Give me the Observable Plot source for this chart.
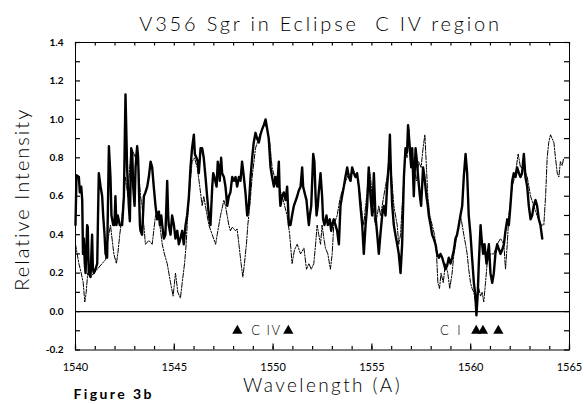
<!DOCTYPE html>
<html><head><meta charset="utf-8">
<script src="https://cdn.jsdelivr.net/npm/d3@7"></script>
<script src="https://cdn.jsdelivr.net/npm/@observablehq/plot@0.6"></script>
<style>
body{margin:0;background:#fff;}
#chart{width:584px;height:404px;}
</style></head><body>
<div id="chart"></div>
<script>
// Thick (solid) spectrum
const thickWl = [1540.00,1540.05,1540.17,1540.22,1540.29,1540.34,1540.38,1540.42,1540.47,1540.51,1540.59,1540.62,1540.67,1540.76,1540.84,1540.88,1540.93,1541.01,1541.10,1541.14,1541.18,1541.27,1541.35,1541.40,1541.47,1541.52,1541.60,1541.69,1541.77,1541.82,1541.91,1541.97,1542.02,1542.07,1542.14,1542.24,1542.36,1542.45,1542.53,1542.58,1542.61,1542.70,1542.75,1542.82,1542.87,1542.92,1542.99,1543.04,1543.12,1543.17,1543.22,1543.26,1543.29,1543.37,1543.46,1543.54,1543.63,1543.71,1543.80,1543.88,1543.96,1544.05,1544.13,1544.22,1544.27,1544.34,1544.39,1544.47,1544.55,1544.64,1544.69,1544.72,1544.81,1544.89,1544.98,1545.06,1545.15,1545.23,1545.31,1545.40,1545.48,1545.57,1545.65,1545.74,1545.82,1545.90,1545.99,1546.04,1546.12,1546.19,1546.24,1546.33,1546.41,1546.49,1546.58,1546.66,1546.75,1546.83,1546.92,1546.97,1547.03,1547.14,1547.20,1547.25,1547.30,1547.37,1547.42,1547.51,1547.59,1547.68,1547.76,1547.84,1547.93,1548.01,1548.10,1548.18,1548.27,1548.35,1548.43,1548.52,1548.60,1548.69,1548.77,1548.86,1548.94,1549.02,1549.11,1549.19,1549.28,1549.36,1549.45,1549.53,1549.62,1549.70,1549.78,1549.87,1549.95,1550.04,1550.12,1550.21,1550.29,1550.34,1550.37,1550.46,1550.54,1550.63,1550.71,1550.80,
1550.88,1550.96,1551.05,1551.22,1551.30,1551.39,1551.47,1551.52,1551.59,1551.69,1551.76,1551.81,1551.86,1551.93,1552.03,1552.09,1552.15,1552.20,1552.26,1552.31,1552.40,1552.48,1552.53,1552.60,1552.70,1552.77,1552.87,1552.94,1552.99,1553.07,1553.16,1553.24,1553.33,1553.41,1553.49,1553.58,1553.66,1553.75,1553.83,1553.92,1554.00,1554.09,1554.17,1554.25,1554.34,1554.42,1554.51,1554.59,1554.68,1554.76,1554.84,1554.93,1555.01,1555.10,1555.18,1555.27,1555.35,1555.43,1555.52,1555.60,1555.69,1555.77,1555.86,1555.91,1555.97,1556.03,1556.11,1556.19,1556.28,1556.36,1556.45,1556.53,1556.62,1556.70,1556.78,1556.83,1556.92,1556.99,1557.04,1557.12,1557.21,1557.26,1557.34,1557.43,1557.49,1557.59,1557.66,1557.76,1557.83,1557.88,1557.97,1558.05,1558.13,1558.22,1558.30,1558.39,1558.47,1558.56,1558.64,1558.72,1558.81,1558.89,1558.98,1559.06,1559.15,1559.23,1559.31,1559.40,1559.48,1559.57,1559.65,1559.74,1559.82,1559.90,1559.99,1560.07,1560.16,1560.24,1560.29,1560.36,1560.41,1560.50,1560.55,1560.63,1560.70,1560.80,1560.92,1561.00,1561.09,1561.17,1561.25,1561.34,1561.51,1561.59,1561.68,1561.76,1561.85,1561.93,1562.01,1562.10,1562.18,1562.27,1562.35,1562.44,1562.52,1562.60,1562.69,1562.77,1562.86,1562.94,1563.03,1563.11,1563.19,1563.28,1563.36,1563.45,1563.53,1563.62];
const thickVal = [0.45,0.71,0.70,0.62,0.65,0.58,0.30,0.38,0.25,0.20,0.45,0.44,0.20,0.18,0.40,0.22,0.20,0.22,0.25,0.50,0.72,0.65,0.60,0.50,0.40,0.30,0.28,0.86,0.70,0.50,0.45,0.45,0.60,0.45,0.50,0.45,0.45,0.60,1.13,0.90,0.75,0.55,0.47,0.85,0.83,0.65,0.55,0.75,0.86,0.80,0.60,0.45,0.42,0.40,0.60,0.62,0.65,0.70,0.78,0.75,0.65,0.55,0.48,0.52,0.45,0.50,0.45,0.38,0.40,0.68,0.50,0.45,0.40,0.50,0.45,0.38,0.42,0.35,0.38,0.42,0.35,0.45,0.50,0.60,0.75,0.85,0.92,0.82,0.80,0.78,0.72,0.85,0.85,0.80,0.70,0.60,0.50,0.45,0.65,0.72,0.70,0.65,0.78,0.75,0.68,0.80,0.72,0.70,0.65,0.55,0.60,0.62,0.70,0.68,0.70,0.65,0.70,0.68,0.78,0.70,0.62,0.50,0.55,0.70,0.80,0.88,0.93,0.90,0.88,0.92,0.95,0.97,1.00,0.95,0.90,0.75,0.70,0.65,0.70,0.65,0.78,0.60,0.55,0.60,0.62,0.58,0.65,0.45,
0.45,0.50,0.55,0.60,0.63,0.65,0.75,0.65,0.62,0.58,0.50,0.45,0.50,0.55,0.82,0.78,0.60,0.50,0.55,0.62,0.72,0.60,0.48,0.45,0.50,0.45,0.48,0.42,0.45,0.48,0.45,0.42,0.35,0.55,0.60,0.65,0.70,0.75,0.70,0.68,0.75,0.72,0.70,0.72,0.65,0.55,0.45,0.30,0.45,0.55,0.75,0.60,0.50,0.72,0.50,0.40,0.30,0.40,0.50,0.55,0.50,0.65,0.78,0.92,0.70,0.55,0.45,0.40,0.35,0.30,0.20,0.35,0.70,0.85,0.83,0.97,0.85,0.75,0.85,0.60,0.85,0.80,0.70,0.60,0.55,0.75,0.70,0.60,0.55,0.50,0.45,0.40,0.38,0.35,0.30,0.28,0.30,0.28,0.25,0.22,0.24,0.28,0.25,0.28,0.32,0.38,0.40,0.45,0.50,0.55,0.70,0.82,0.72,0.50,0.40,0.28,0.15,0.08,-0.02,0.10,0.25,0.45,0.38,0.30,0.35,0.25,0.35,0.20,0.15,0.20,0.30,0.35,0.30,0.32,0.35,0.42,0.48,0.45,0.55,0.68,0.72,0.70,0.75,0.72,0.70,0.72,0.82,0.70,0.65,0.55,0.48,0.50,0.55,0.58,0.55,0.48,0.45,0.38];

// Thin (broken) spectrum
const dashWl = [1540.00,1540.17,1540.29,1540.39,1540.47,1540.54,1540.62,1540.76,1540.93,1541.10,1541.35,1541.52,1541.60,1541.77,1541.94,1542.07,1542.14,1542.24,1542.36,1542.53,1542.65,1542.78,1542.92,1543.04,1543.12,1543.22,1543.29,1543.37,1543.54,1543.71,1543.88,1544.05,1544.17,1544.27,1544.39,1544.50,1544.64,1544.81,1544.94,1545.06,1545.18,1545.31,1545.40,1545.52,1545.60,1545.68,1545.79,1545.90,1546.02,1546.16,1546.29,1546.41,1546.49,1546.66,1546.75,1546.92,1547.09,1547.17,1547.34,1547.51,1547.59,1547.76,1547.84,1547.93,1548.10,1548.18,1548.27,1548.38,1548.47,1548.55,1548.65,1548.72,1548.82,1548.94,1549.11,1549.36,1549.56,1549.70,1549.83,1549.95,1550.12,1550.29,1550.46,1550.71,1550.84,1550.96,1551.08,1551.22,
1551.39,1551.56,1551.69,1551.81,1551.93,1552.06,1552.15,1552.23,1552.31,1552.40,1552.48,1552.57,1552.65,1552.77,1552.90,1552.99,1553.07,1553.24,1553.41,1553.58,1553.75,1553.92,1554.09,1554.25,1554.42,1554.51,1554.59,1554.68,1554.76,1554.84,1554.93,1555.01,1555.10,1555.18,1555.27,1555.35,1555.43,1555.52,1555.60,1555.77,1555.94,1556.11,1556.28,1556.36,1556.45,1556.53,1556.62,1556.70,1556.78,1556.87,1556.95,1557.04,1557.12,1557.26,1557.37,1557.49,1557.59,1557.68,1557.76,1557.83,1557.93,1558.05,1558.17,1558.27,1558.34,1558.42,1558.50,1558.61,1558.72,1558.84,1558.94,1559.06,1559.15,1559.23,1559.31,1559.40,1559.48,1559.57,1559.65,1559.74,1559.82,1559.90,1559.99,1560.07,1560.16,1560.24,1560.33,1560.41,1560.50,1560.58,1560.66,1560.75,1560.83,1560.92,1561.00,1561.17,1561.34,1561.51,1561.68,1561.76,1561.85,1561.93,1562.10,1562.27,1562.40,1562.52,1562.69,1562.86,1563.03,1563.19,1563.36,1563.53,1563.70,1563.79,1563.87,1563.95,1564.04,1564.12,1564.21,1564.29,1564.38,1564.46,1564.54,1564.63,1564.71];
const dashVal = [0.35,0.25,0.20,0.15,0.05,0.10,0.20,0.18,0.20,0.22,0.25,0.27,0.35,0.45,0.30,0.25,0.30,0.40,0.50,0.70,0.60,0.80,0.83,0.80,0.86,0.70,0.60,0.55,0.35,0.37,0.35,0.50,0.52,0.45,0.35,0.30,0.25,0.15,0.08,0.20,0.10,0.07,0.15,0.25,0.35,0.50,0.65,0.78,0.80,0.75,0.65,0.55,0.60,0.50,0.45,0.40,0.35,0.40,0.50,0.58,0.55,0.45,0.42,0.44,0.42,0.43,0.35,0.25,0.18,0.25,0.35,0.45,0.55,0.70,0.85,0.93,0.98,0.95,0.88,0.75,0.68,0.65,0.60,0.50,0.40,0.25,0.32,0.35,
0.30,0.33,0.22,0.25,0.22,0.25,0.35,0.45,0.40,0.35,0.45,0.38,0.33,0.30,0.22,0.30,0.45,0.50,0.60,0.65,0.70,0.72,0.72,0.70,0.60,0.50,0.45,0.55,0.62,0.75,0.70,0.60,0.50,0.45,0.50,0.55,0.50,0.55,0.60,0.70,0.78,0.55,0.45,0.35,0.40,0.55,0.70,0.85,0.80,0.95,0.78,0.82,0.75,0.68,0.78,0.75,0.85,0.92,0.75,0.60,0.50,0.45,0.40,0.30,0.15,0.12,0.20,0.15,0.25,0.20,0.12,0.20,0.30,0.35,0.40,0.45,0.50,0.45,0.40,0.35,0.30,0.22,0.15,0.12,0.10,0.05,0.08,0.12,0.08,0.10,0.05,0.15,0.25,0.28,0.30,0.30,0.35,0.38,0.35,0.22,0.35,0.50,0.65,0.72,0.82,0.75,0.75,0.70,0.60,0.55,0.50,0.45,0.45,0.60,0.80,0.88,0.92,0.90,0.88,0.80,0.72,0.70,0.78,0.76,0.80];

// Line identifications
const civLines = [1548.19, 1550.77];
const ciLines = [1560.28, 1560.62, 1561.40];
const labels = ["C IV", "C I"];
const labelWl = [1549.66, 1559.03];
const markY = -0.1;

const xDom = [1540, 1565];
const yDom = [-0.2, 1.4];
const xTicks = [1540, 1545, 1550, 1555, 1560, 1565];
const yTicks = [-0.2, 0, 0.2, 0.4, 0.6, 0.8, 1.0, 1.2, 1.4];
const xMinor = d3.range(1540, 1565.5, 1);
const yMinor = d3.range(-0.2, 1.45, 0.1).map(v => Math.round(v * 10) / 10);

const title = "V356 Sgr in Eclipse\u00a0 C IV region";
const xLabel = "Wavelength (A)";
const yLabel = "Relative Intensity";
const figLabel = "Figure 3b";

const thick = thickWl.map((w, i) => ({w, v: thickVal[i]}));
const dash = dashWl.map((w, i) => ({w, v: dashVal[i]}));
const marks = [...civLines, ...ciLines].map(w => ({w, v: markY}));
const lab = labels.map((t, i) => ({t, w: labelWl[i], v: markY}));

const font = "Lato, 'DejaVu Sans', sans-serif";
const fmt = d => (d < 0 ? "-" : "") + Math.abs(d).toFixed(1);

const W = 584, H = 404, ML = 75, MR = 15, MT = 42, MB = 54.5;
const FW = W - ML - MR, FH = H - MT - MB;
// tick lengths expressed in data units (px -> data)
const tx = 5 * (xDom[1] - xDom[0]) / FW;   // 5 px horizontal
const ty = 3.5 * (yDom[1] - yDom[0]) / FH; // 3.5 px vertical
const tyMaj = 6 * (yDom[1] - yDom[0]) / FH;

const chart = Plot.plot({
  width: W, height: H,
  marginLeft: ML, marginRight: MR, marginTop: MT, marginBottom: MB,
  style: {fontFamily: font, background: "#fff", color: "#000"},
  x: {domain: xDom},
  y: {domain: yDom},
  marks: [
    Plot.frame({stroke: "#000", strokeWidth: 1}),
    // inner tick marks
    Plot.ruleY(yMinor, {y: d => d, x1: xDom[0], x2: xDom[0] + tx, stroke: "#000", strokeWidth: 1.2}),
    Plot.ruleY(yMinor, {y: d => d, x1: xDom[1] - tx, x2: xDom[1], stroke: "#000", strokeWidth: 1.2}),
    Plot.ruleX(xMinor, {x: d => d, y1: yDom[1] - ty, y2: yDom[1], stroke: "#000", strokeWidth: 1.2}),
    Plot.ruleX(xMinor, {x: d => d, y1: yDom[0], y2: yDom[0] + ty, stroke: "#000", strokeWidth: 1.2}),
    Plot.ruleX(xTicks, {x: d => d, y1: yDom[0], y2: yDom[0] + tyMaj, stroke: "#000", strokeWidth: 1.2}),
    // tick labels
    Plot.axisY(yTicks, {anchor: "left", tickSize: 0, tickPadding: 12, tickFormat: fmt, label: null, fontSize: 10, fontWeight: "bold"}),
    Plot.axisX(xTicks, {anchor: "bottom", tickSize: 0, tickPadding: 13, tickFormat: d => String(d), label: null, fontSize: 11}),
    Plot.ruleY([0], {stroke: "#000", strokeWidth: 1.3}),
    Plot.line(dash, {x: "w", y: "v", stroke: "#000", strokeWidth: 1, strokeDasharray: "5,1.5,1.5,1.5"}),
    Plot.line(thick, {x: "w", y: "v", stroke: "#000", strokeWidth: 2.4, strokeLinejoin: "round"}),
    Plot.dot(marks, {x: "w", y: "v", symbol: "triangle", r: 3.8, fill: "#000", stroke: null}),
    Plot.text(lab, {x: "w", y: "v", text: "t", fontSize: 13, fontWeight: 300, fill: "#000"}),
    // titles
    Plot.text([title], {frameAnchor: "top", lineAnchor: "middle", textAnchor: "middle", dx: -2, dy: -18.4, fontSize: 20, fontWeight: 300, fill: "#000"}),
    Plot.text([xLabel], {frameAnchor: "bottom", lineAnchor: "middle", textAnchor: "middle", dx: 0, dy: 35.5, fontSize: 19, fontWeight: 300, fill: "#000"}),
    Plot.text([yLabel], {frameAnchor: "left", lineAnchor: "middle", textAnchor: "middle", dx: -53, dy: 3, rotate: -90, fontSize: 20, fontWeight: 300, fill: "#000"}),
    Plot.text([figLabel], {frameAnchor: "bottom-left", lineAnchor: "middle", textAnchor: "start", dx: -2, dy: 45, fontSize: 14, fontWeight: "bold", fill: "#000"})
  ]
});
// letter spacing (Plot passes no such option) applied to the rendered texts
const spacing = new Map([[title, 2.8], [xLabel, 2.4], [yLabel, 2], [figLabel, 2.4], ["C IV", 1.5], ["C I", 2.5]]);
d3.select(chart).selectAll("text").each(function() {
  const s = spacing.get(this.textContent);
  if (s != null) this.setAttribute("letter-spacing", s);
});
document.getElementById("chart").appendChild(chart);
</script>
</body></html>
